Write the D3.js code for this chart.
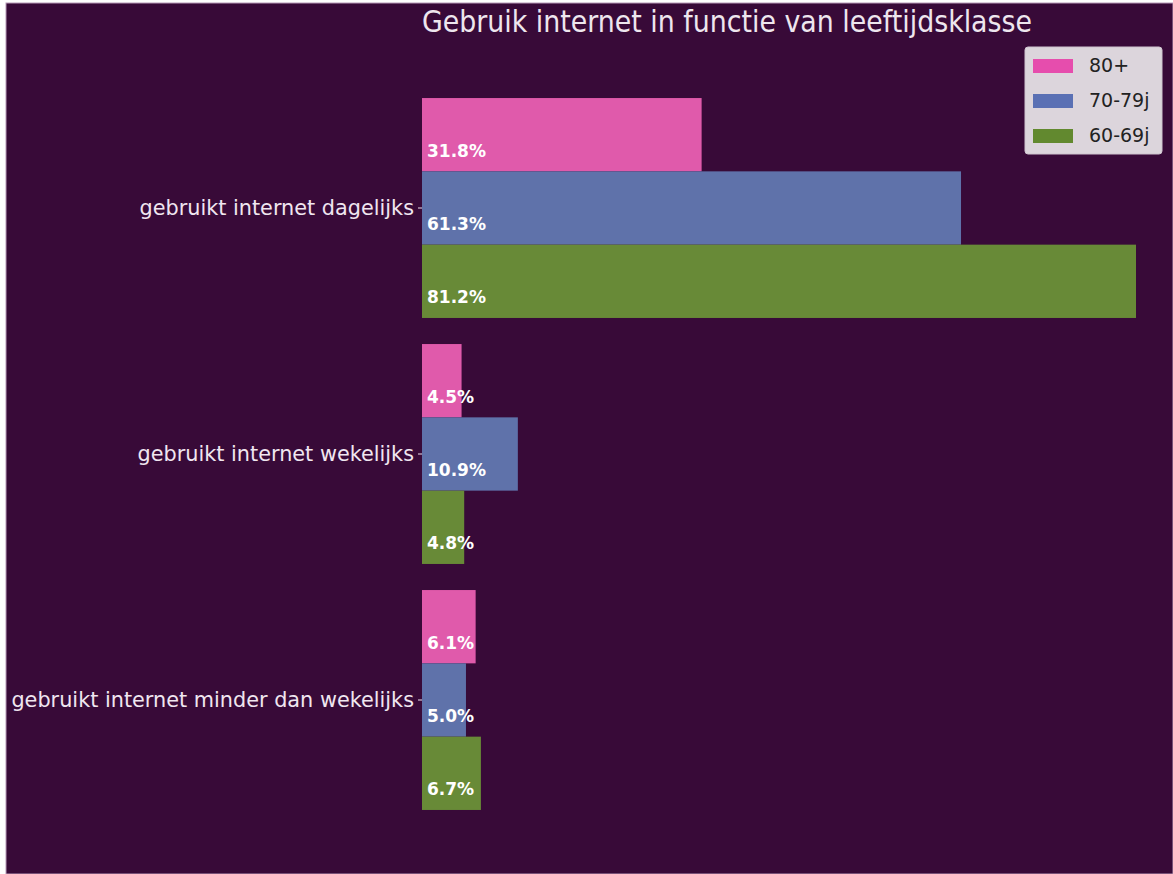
<!DOCTYPE html>
<html>
<head>
<meta charset="utf-8">
<script src="https://cdn.jsdelivr.net/npm/d3@7"></script>
<style>
  body { margin: 0; background: #ffffff; }
  text { font-family: "DejaVu Sans", sans-serif; }
</style>
</head>
<body>
<svg id="chart"></svg>
<script>
// data
const categories = ["gebruikt internet dagelijks", "gebruikt internet wekelijks", "gebruikt internet minder dan wekelijks"];
const groups = ["80+", "70-79j", "60-69j"];
const values80 = [31.8, 4.5, 6.1];
const values70 = [61.3, 10.9, 5.0];
const values60 = [81.2, 4.8, 6.7];
const colors = ["#e05aab", "#5f72aa", "#688a37"];
const legendColors = ["#e64dad", "#5a70b4", "#62892f"];

const width = 1173;
const height = 874;

const svg = d3.select("#chart")
    .attr("width", width)
    .attr("height", height);

// background panel
svg.append("rect")
    .attr("x", 6).attr("y", 3)
    .attr("width", width - 6).attr("height", height - 3)
    .attr("fill", "#380a38")
    .attr("stroke", "#b89ab8")
    .attr("stroke-width", 1);

const x = d3.scaleLinear()
    .domain([0, 81.2])
    .range([422, 1136]);

const y = d3.scaleBand()
    .domain(categories)
    .range([85, 823])
    .paddingInner(0.106)
    .paddingOuter(0.053);

const ySub = d3.scaleBand()
    .domain(groups)
    .range([0, y.bandwidth()]);

const seriesValues = [values80, values70, values60];
const rows = [];
categories.forEach((c, i) => {
    groups.forEach((g, j) => {
        rows.push({ cat: c, group: g, value: seriesValues[j][i], color: colors[j] });
    });
});

const bars = svg.append("g").selectAll("g")
    .data(rows)
    .enter().append("g");

bars.append("rect")
    .attr("x", x(0))
    .attr("y", d => y(d.cat) + ySub(d.group))
    .attr("width", d => x(d.value) - x(0))
    .attr("height", ySub.bandwidth())
    .attr("fill", d => d.color);

bars.append("text")
    .attr("x", x(0) + 5)
    .attr("y", d => y(d.cat) + ySub(d.group) + ySub.bandwidth() * 0.73)
    .attr("dominant-baseline", "middle")
    .attr("fill", "#ffffff")
    .attr("font-weight", "bold")
    .attr("font-size", 17)
    .text(d => d.value.toFixed(1) + "%");

// category axis
const yAxis = svg.append("g")
    .attr("transform", `translate(${x(0)},0)`)
    .call(d3.axisLeft(y).tickSize(4).tickPadding(4));
yAxis.select(".domain").remove();
yAxis.selectAll(".tick line").attr("stroke", "#ece0ec");
yAxis.selectAll(".tick text")
    .attr("fill", "#f0e6f0")
    .attr("font-size", 20.8)
    .attr("font-family", "DejaVu Sans, sans-serif");

// title
svg.append("text")
    .attr("x", 422)
    .attr("y", 32)
    .attr("fill", "#eee6ee")
    .attr("font-size", 31)
    .attr("textLength", 610)
    .attr("lengthAdjust", "spacingAndGlyphs")
    .text("Gebruik internet in functie van leeftijdsklasse");

// legend
const legend = svg.append("g").attr("transform", "translate(1025,47)");
legend.append("rect")
    .attr("width", 137).attr("height", 107)
    .attr("rx", 3)
    .attr("fill", "#dcd5dc")
    .attr("stroke", "#cfc4cf");

const items = legend.selectAll("g.item")
    .data(groups)
    .enter().append("g")
    .attr("class", "item")
    .attr("transform", (d, i) => `translate(0,${19 + i * 35})`);

items.append("rect")
    .attr("x", 8).attr("y", -7)
    .attr("width", 40).attr("height", 14)
    .attr("fill", (d, i) => legendColors[i]);

items.append("text")
    .attr("x", 64)
    .attr("y", 0)
    .attr("dominant-baseline", "middle")
    .attr("fill", "#222222")
    .attr("font-size", 19)
    .text(d => d);
</script>
</body>
</html>
